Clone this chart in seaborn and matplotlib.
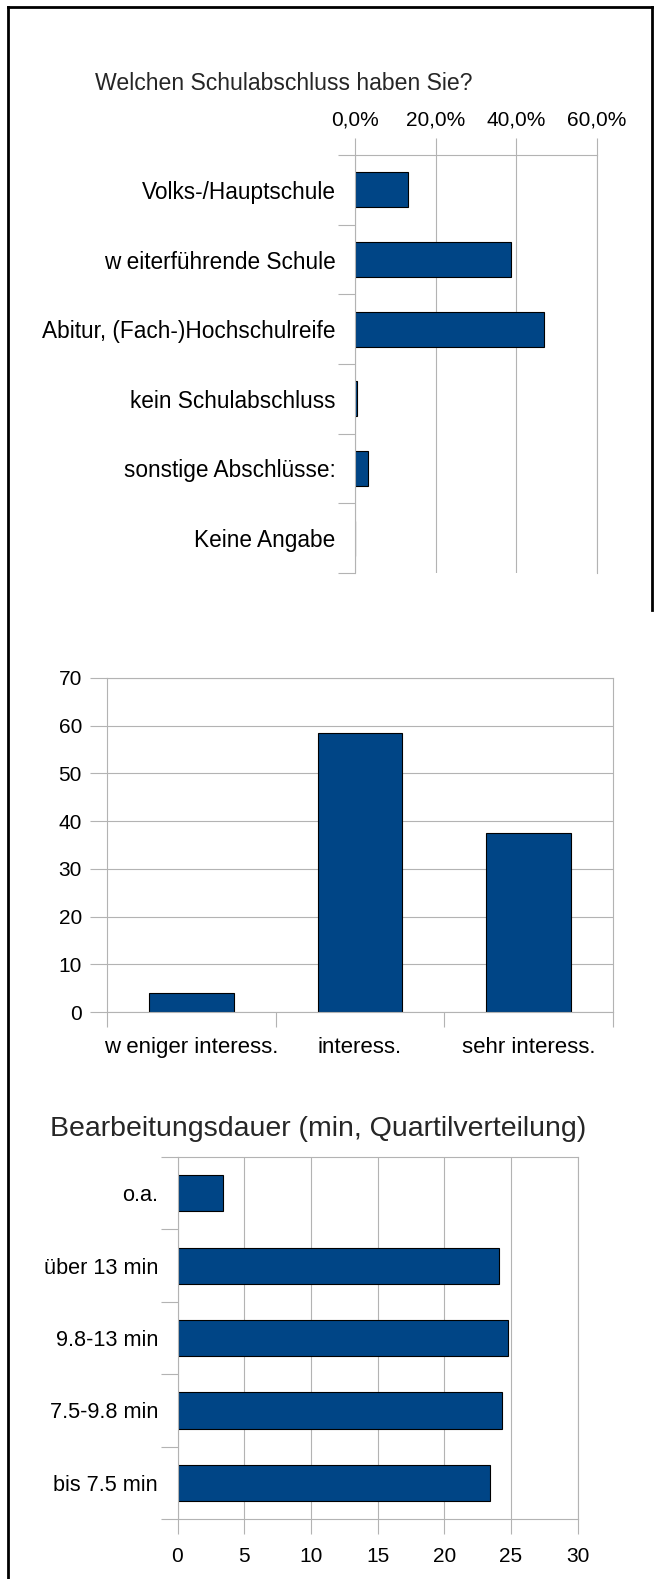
import matplotlib
matplotlib.use("Agg")
import matplotlib.pyplot as plt
from matplotlib.lines import Line2D
import seaborn as sns
import pandas as pd
import numpy as np

sns.set_theme(style="white")
plt.rcParams["font.family"] = ["Liberation Sans", "DejaVu Sans"]

# --- data ---------------------------------------------------------------
school_labels = ["Volks-/Hauptschule", "w eiterführende Schule",
                 "Abitur, (Fach-)Hochschulreife", "kein Schulabschluss",
                 "sonstige Abschlüsse:", "Keine Angabe"]
school_share = [13.1, 38.8, 46.8, 0.6, 3.3, 0.0]
school_ticks = [0, 20, 40, 60]
school_ticklabels = ["0,0%", "20,0%", "40,0%", "60,0%"]

interest_labels = ["w eniger interess.", "interess.", "sehr interess."]
interest_values = [4.0, 58.5, 37.5]
interest_ticks = [0, 10, 20, 30, 40, 50, 60, 70]

duration_labels = ["o.a.", "über 13 min", "9.8-13 min", "7.5-9.8 min", "bis 7.5 min"]
duration_values = [3.4, 24.1, 24.8, 24.3, 23.4]
duration_ticks = [0, 5, 10, 15, 20, 25, 30]

BAR = "#004586"
GRID = "#b3b3b3"
FS = 15

W, H = 659, 1579
fig = plt.figure(figsize=(W / 100, H / 100), dpi=100)


def box(left, top, right, bottom):
    return [left / W, 1 - bottom / H, (right - left) / W, (bottom - top) / H]


def style_axes(ax):
    ax.set_facecolor("white")
    for s in ax.spines.values():
        s.set_color(GRID)
        s.set_linewidth(0.8)
    ax.tick_params(which="both", colors=GRID, labelcolor="black", labelsize=FS, width=0.8)


def categorical_ticks(axis, n):
    # boundary ticks between categories, labels centred on each bar
    axis.set_ticks(np.arange(-0.5, n, 1.0))
    axis.set_ticklabels([])
    axis.set_ticks(np.arange(n), minor=True)


# --- chart 1: school leaving certificate --------------------------------
ax1 = fig.add_axes(box(355, 155, 597, 573))
df1 = pd.DataFrame({"label": school_labels, "value": school_share})
sns.barplot(data=df1, x="value", y="label", orient="h", ax=ax1, color=BAR,
            saturation=1, width=0.5, edgecolor="black", linewidth=0.8)
style_axes(ax1)
ax1.set_xlim(0, 60)
ax1.set_ylim(len(school_labels) - 0.5, -0.5)
ax1.xaxis.tick_top()
ax1.set_xticks(school_ticks)
ax1.set_xticklabels(school_ticklabels)
ax1.tick_params(axis="x", which="major", length=12, pad=6, top=True, bottom=False)
ax1.xaxis.grid(True, color=GRID, linewidth=0.8)
ax1.yaxis.grid(False)
categorical_ticks(ax1.yaxis, len(school_labels))
ax1.set_yticklabels(school_labels, minor=True, fontsize=16.3)
ax1.tick_params(axis="y", which="major", length=12, left=True)
ax1.tick_params(axis="y", which="minor", length=0, pad=14)
ax1.spines["bottom"].set_visible(False)
ax1.set_xlabel("")
ax1.set_ylabel("")
fig.text(284 / W, 1 - 84 / H, "Welchen Schulabschluss haben Sie?",
         ha="center", va="center", fontsize=16.6)

# --- chart 2: interest ---------------------------------------------------
ax2 = fig.add_axes(box(107, 678, 613, 1012))
df2 = pd.DataFrame({"label": interest_labels, "value": interest_values})
sns.barplot(data=df2, x="label", y="value", ax=ax2, color=BAR,
            saturation=1, width=0.5, edgecolor="black", linewidth=0.8)
style_axes(ax2)
ax2.set_ylim(0, 70)
ax2.set_yticks(interest_ticks)
ax2.tick_params(axis="y", which="major", length=12, pad=6, left=True)
ax2.yaxis.grid(True, color=GRID, linewidth=0.8)
ax2.xaxis.grid(False)
ax2.set_axisbelow(True)
categorical_ticks(ax2.xaxis, len(interest_labels))
ax2.set_xlim(-0.5, len(interest_labels) - 0.5)
ax2.set_xticklabels(interest_labels, minor=True, fontsize=16)
ax2.tick_params(axis="x", which="major", length=11, bottom=True)
ax2.tick_params(axis="x", which="minor", length=0, pad=18)
ax2.set_xlabel("")
ax2.set_ylabel("")

# --- chart 3: processing time -------------------------------------------
ax3 = fig.add_axes(box(177.5, 1157, 577.5, 1519))
df3 = pd.DataFrame({"label": duration_labels, "value": duration_values})
sns.barplot(data=df3, x="value", y="label", orient="h", ax=ax3, color=BAR,
            saturation=1, width=0.5, edgecolor="black", linewidth=0.8)
style_axes(ax3)
ax3.set_xlim(0, 30)
ax3.set_ylim(len(duration_labels) - 0.5, -0.5)
ax3.set_xticks(duration_ticks)
ax3.tick_params(axis="x", which="major", length=11, pad=9, bottom=True)
ax3.xaxis.grid(True, color=GRID, linewidth=0.8)
ax3.yaxis.grid(False)
ax3.set_axisbelow(True)
categorical_ticks(ax3.yaxis, len(duration_labels))
ax3.set_yticklabels(duration_labels, minor=True, fontsize=15.6)
ax3.tick_params(axis="y", which="major", length=12, left=True)
ax3.tick_params(axis="y", which="minor", length=0, pad=14)
ax3.set_xlabel("")
ax3.set_ylabel("")
fig.text(318 / W, 1 - 1129 / H, "Bearbeitungsdauer (min, Quartilverteilung)",
         ha="center", va="center", fontsize=20.5)

# --- page frame ----------------------------------------------------------
frame_kw = dict(color="black", linewidth=2.0, transform=fig.transFigure, solid_capstyle="projecting")
fig.add_artist(Line2D([8 / W, 8 / W], [0, 1 - 7 / H], **frame_kw))
fig.add_artist(Line2D([8 / W, 652 / W], [1 - 7 / H, 1 - 7 / H], **frame_kw))
fig.add_artist(Line2D([652 / W, 652 / W], [1 - 7 / H, 1 - 610 / H], **frame_kw))

fig.savefig("out.png", dpi=100, facecolor="white")
